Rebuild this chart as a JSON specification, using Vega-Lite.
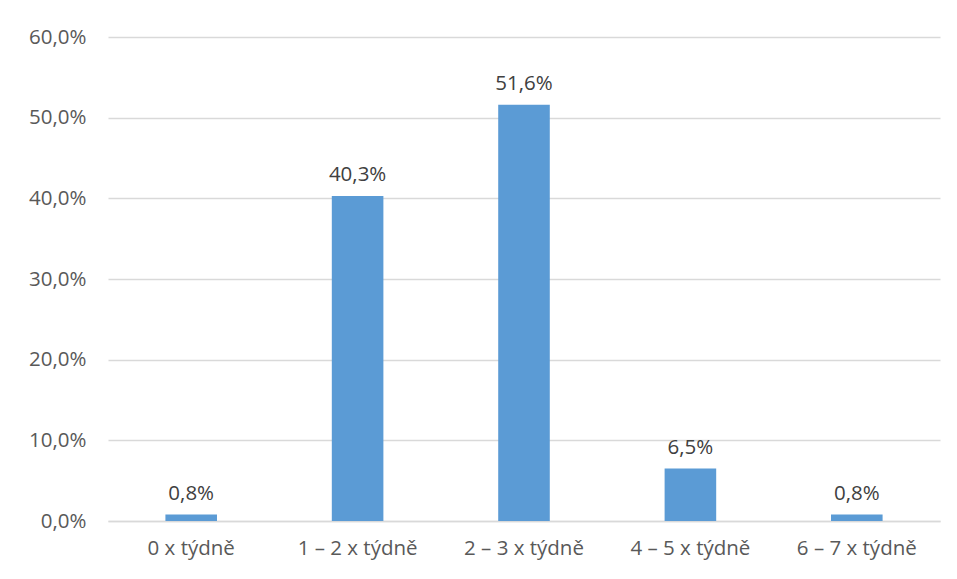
{
  "$schema": "https://vega.github.io/schema/vega-lite/v6.json",
  "autosize": {"type": "none"},
  "padding": {"left": 108, "top": 37, "right": 17, "bottom": 58},
  "width": 832,
  "height": 484,
  "background": "white",
  "config": {
    "locale": {"number": {"decimal": ",", "thousands": " ", "grouping": [3], "currency": ["", " Kč"]}},
    "view": {"stroke": null},
    "font": "Open Sans"
  },
  "data": {
    "values": [
      {"kategorie": "0 x týdně", "podil": 0.008},
      {"kategorie": "1 – 2 x týdně", "podil": 0.403},
      {"kategorie": "2 – 3 x týdně", "podil": 0.516},
      {"kategorie": "4 – 5 x týdně", "podil": 0.065},
      {"kategorie": "6 – 7 x týdně", "podil": 0.008}
    ]
  },
  "encoding": {
    "x": {
      "field": "kategorie",
      "type": "nominal",
      "sort": null,
      "scale": {"paddingInner": 0.69, "paddingOuter": 0.345},
      "axis": {
        "title": null,
        "labelAngle": 0,
        "labelFontSize": 20.5,
        "labelColor": "#595959",
        "labelPadding": 17,
        "ticks": false,
        "domainColor": "#D9D9D9",
        "domainWidth": 1.3
      }
    },
    "y": {
      "field": "podil",
      "type": "quantitative",
      "scale": {"domain": [0, 0.6]},
      "axis": {
        "title": null,
        "format": ".1%",
        "values": [0, 0.1, 0.2, 0.3, 0.4, 0.5, 0.6],
        "labelFontSize": 20.5,
        "labelColor": "#595959",
        "labelPadding": 22,
        "ticks": false,
        "domain": false,
        "gridColor": "#D9D9D9",
        "gridWidth": 1.3
      }
    }
  },
  "layer": [
    {"mark": {"type": "bar", "color": "#5B9BD5"}},
    {
      "mark": {"type": "text", "baseline": "bottom", "dy": -11, "fontSize": 20.5, "color": "#404040"},
      "encoding": {"text": {"field": "podil", "type": "quantitative", "format": ".1%"}}
    }
  ]
}
